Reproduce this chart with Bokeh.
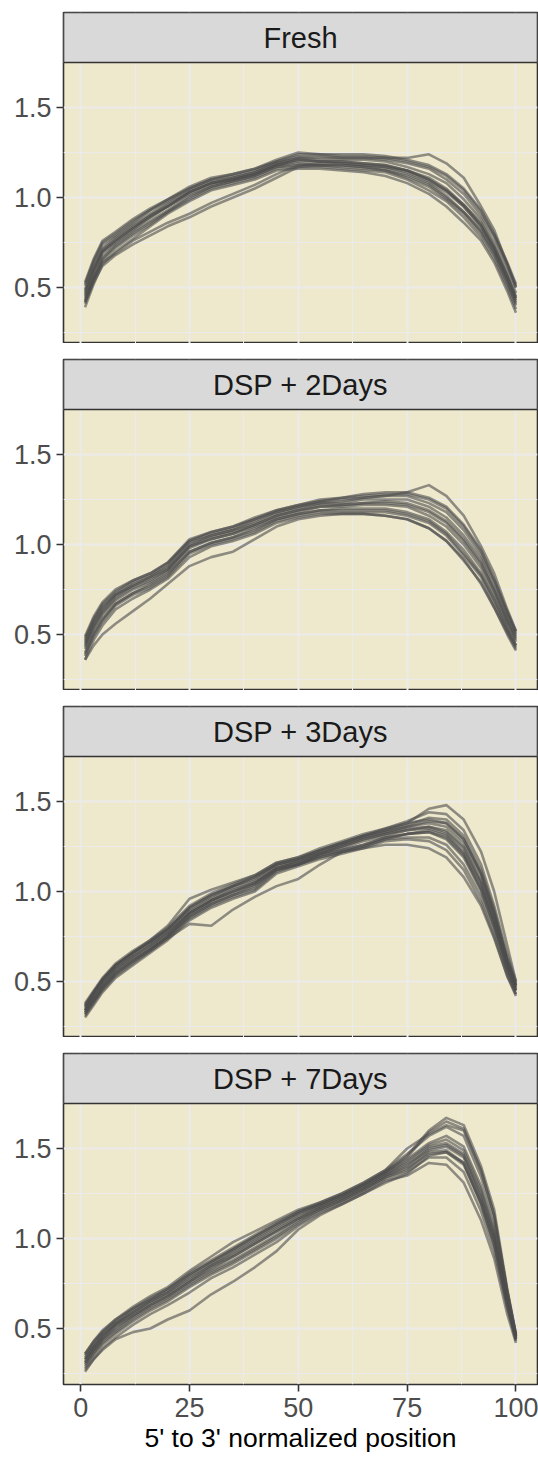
from bokeh.plotting import figure
from bokeh.layouts import column
from bokeh.models import FixedTicker, Range1d, Label, PrintfTickFormatter
from bokeh.embed import file_html
from bokeh.resources import INLINE

# ---------------- data ----------------
positions = [1, 3, 5, 8, 12, 16, 20, 25, 30, 35, 40, 45, 50, 55, 60, 65, 70, 75, 80, 84, 88, 92, 95, 98, 100]

panel_titles = ["Fresh", "DSP + 2Days", "DSP + 3Days", "DSP + 7Days"]

fresh = [
    [0.53, 0.66, 0.76, 0.81, 0.88, 0.94, 0.99, 1.06, 1.11, 1.13, 1.16, 1.21, 1.25, 1.24, 1.24, 1.24, 1.23, 1.21, 1.18, 1.13, 1.05, 0.93, 0.80, 0.64, 0.52],
    [0.52, 0.65, 0.75, 0.80, 0.87, 0.93, 0.99, 1.05, 1.10, 1.13, 1.16, 1.20, 1.24, 1.24, 1.23, 1.23, 1.22, 1.20, 1.17, 1.12, 1.04, 0.92, 0.79, 0.63, 0.51],
    [0.51, 0.64, 0.74, 0.79, 0.86, 0.93, 0.98, 1.05, 1.10, 1.12, 1.15, 1.20, 1.23, 1.23, 1.22, 1.22, 1.21, 1.19, 1.16, 1.10, 1.02, 0.90, 0.78, 0.62, 0.50],
    [0.49, 0.62, 0.72, 0.78, 0.85, 0.91, 0.97, 1.04, 1.09, 1.11, 1.14, 1.19, 1.22, 1.21, 1.21, 1.21, 1.20, 1.17, 1.13, 1.08, 0.99, 0.88, 0.75, 0.59, 0.47],
    [0.47, 0.60, 0.70, 0.76, 0.83, 0.90, 0.95, 1.03, 1.08, 1.10, 1.13, 1.18, 1.21, 1.20, 1.20, 1.19, 1.18, 1.15, 1.11, 1.05, 0.96, 0.86, 0.73, 0.57, 0.45],
    [0.46, 0.59, 0.70, 0.76, 0.83, 0.89, 0.95, 1.03, 1.08, 1.10, 1.13, 1.18, 1.21, 1.20, 1.20, 1.19, 1.18, 1.15, 1.10, 1.04, 0.96, 0.85, 0.72, 0.56, 0.44],
    [0.45, 0.58, 0.69, 0.75, 0.82, 0.89, 0.95, 1.02, 1.07, 1.10, 1.13, 1.18, 1.20, 1.20, 1.19, 1.18, 1.17, 1.14, 1.09, 1.03, 0.95, 0.84, 0.71, 0.55, 0.43],
    [0.43, 0.56, 0.67, 0.74, 0.81, 0.87, 0.93, 1.01, 1.06, 1.09, 1.12, 1.17, 1.19, 1.18, 1.18, 1.17, 1.15, 1.12, 1.07, 1.00, 0.92, 0.81, 0.69, 0.53, 0.41],
    [0.42, 0.55, 0.66, 0.73, 0.80, 0.86, 0.92, 1.00, 1.06, 1.09, 1.12, 1.17, 1.18, 1.18, 1.17, 1.16, 1.15, 1.11, 1.06, 0.99, 0.91, 0.80, 0.68, 0.52, 0.40],
    [0.41, 0.54, 0.65, 0.72, 0.79, 0.85, 0.92, 0.99, 1.05, 1.08, 1.11, 1.16, 1.17, 1.17, 1.16, 1.15, 1.14, 1.10, 1.04, 0.98, 0.89, 0.78, 0.66, 0.50, 0.38],
    [0.39, 0.52, 0.63, 0.70, 0.77, 0.84, 0.91, 0.98, 1.04, 1.07, 1.10, 1.15, 1.16, 1.16, 1.15, 1.14, 1.12, 1.08, 1.02, 0.95, 0.86, 0.76, 0.64, 0.48, 0.36],
    [0.42, 0.53, 0.62, 0.68, 0.74, 0.79, 0.84, 0.89, 0.95, 1.00, 1.05, 1.11, 1.17, 1.18, 1.18, 1.17, 1.16, 1.13, 1.08, 1.01, 0.92, 0.82, 0.70, 0.54, 0.42],
    [0.44, 0.55, 0.64, 0.69, 0.76, 0.81, 0.86, 0.91, 0.97, 1.02, 1.07, 1.13, 1.18, 1.19, 1.19, 1.18, 1.17, 1.15, 1.10, 1.04, 0.95, 0.84, 0.72, 0.56, 0.44],
    [0.48, 0.61, 0.71, 0.77, 0.84, 0.90, 0.96, 1.03, 1.08, 1.11, 1.14, 1.19, 1.22, 1.22, 1.22, 1.22, 1.22, 1.22, 1.24, 1.19, 1.11, 0.95, 0.82, 0.63, 0.50],
]

dsp_2days = [
    [0.49, 0.60, 0.68, 0.75, 0.80, 0.84, 0.90, 1.03, 1.07, 1.10, 1.15, 1.19, 1.22, 1.25, 1.26, 1.28, 1.29, 1.29, 1.26, 1.21, 1.11, 0.97, 0.81, 0.63, 0.52],
    [0.48, 0.59, 0.67, 0.74, 0.80, 0.84, 0.90, 1.02, 1.07, 1.10, 1.14, 1.19, 1.22, 1.24, 1.26, 1.27, 1.28, 1.28, 1.25, 1.20, 1.10, 0.96, 0.80, 0.62, 0.51],
    [0.47, 0.58, 0.66, 0.73, 0.79, 0.83, 0.89, 1.02, 1.06, 1.09, 1.14, 1.18, 1.21, 1.24, 1.25, 1.26, 1.27, 1.27, 1.23, 1.18, 1.08, 0.94, 0.79, 0.61, 0.50],
    [0.45, 0.56, 0.64, 0.72, 0.77, 0.82, 0.87, 1.00, 1.05, 1.08, 1.12, 1.17, 1.20, 1.23, 1.23, 1.25, 1.25, 1.25, 1.21, 1.15, 1.05, 0.92, 0.76, 0.59, 0.49],
    [0.44, 0.55, 0.63, 0.71, 0.77, 0.81, 0.86, 0.99, 1.04, 1.07, 1.11, 1.16, 1.19, 1.22, 1.22, 1.23, 1.24, 1.23, 1.19, 1.13, 1.03, 0.90, 0.75, 0.58, 0.48],
    [0.43, 0.54, 0.62, 0.70, 0.76, 0.80, 0.86, 0.99, 1.03, 1.06, 1.11, 1.16, 1.19, 1.21, 1.22, 1.23, 1.23, 1.22, 1.18, 1.12, 1.02, 0.89, 0.74, 0.57, 0.47],
    [0.42, 0.53, 0.61, 0.69, 0.75, 0.79, 0.85, 0.98, 1.03, 1.06, 1.10, 1.15, 1.18, 1.21, 1.21, 1.22, 1.22, 1.21, 1.16, 1.10, 1.00, 0.87, 0.72, 0.56, 0.46],
    [0.40, 0.51, 0.59, 0.67, 0.73, 0.78, 0.84, 0.96, 1.01, 1.04, 1.09, 1.14, 1.17, 1.19, 1.20, 1.20, 1.20, 1.18, 1.14, 1.07, 0.97, 0.84, 0.70, 0.54, 0.44],
    [0.39, 0.50, 0.58, 0.67, 0.73, 0.77, 0.83, 0.96, 1.01, 1.04, 1.08, 1.14, 1.17, 1.19, 1.19, 1.19, 1.19, 1.17, 1.13, 1.06, 0.95, 0.83, 0.69, 0.53, 0.44],
    [0.38, 0.49, 0.57, 0.66, 0.72, 0.76, 0.82, 0.95, 1.00, 1.03, 1.07, 1.13, 1.16, 1.18, 1.18, 1.18, 1.18, 1.16, 1.12, 1.05, 0.94, 0.82, 0.67, 0.52, 0.43],
    [0.36, 0.47, 0.55, 0.64, 0.70, 0.75, 0.81, 0.93, 0.99, 1.02, 1.06, 1.12, 1.15, 1.17, 1.17, 1.17, 1.16, 1.14, 1.09, 1.02, 0.91, 0.79, 0.65, 0.50, 0.41],
    [0.36, 0.44, 0.50, 0.56, 0.63, 0.70, 0.78, 0.88, 0.93, 0.96, 1.03, 1.10, 1.14, 1.16, 1.17, 1.17, 1.16, 1.14, 1.09, 1.02, 0.92, 0.78, 0.65, 0.51, 0.42],
    [0.46, 0.57, 0.65, 0.72, 0.78, 0.82, 0.88, 1.01, 1.05, 1.08, 1.13, 1.18, 1.21, 1.23, 1.24, 1.26, 1.27, 1.29, 1.33, 1.27, 1.16, 0.99, 0.84, 0.64, 0.52],
]

dsp_3days = [
    [0.38, 0.45, 0.52, 0.60, 0.67, 0.73, 0.80, 0.92, 0.99, 1.04, 1.09, 1.16, 1.19, 1.24, 1.28, 1.32, 1.35, 1.39, 1.44, 1.43, 1.34, 1.15, 0.92, 0.65, 0.50],
    [0.37, 0.44, 0.51, 0.59, 0.66, 0.72, 0.79, 0.91, 0.98, 1.03, 1.08, 1.15, 1.18, 1.23, 1.27, 1.31, 1.34, 1.37, 1.41, 1.40, 1.31, 1.12, 0.90, 0.63, 0.49],
    [0.36, 0.44, 0.51, 0.59, 0.66, 0.72, 0.79, 0.90, 0.97, 1.03, 1.07, 1.15, 1.18, 1.22, 1.26, 1.30, 1.33, 1.36, 1.39, 1.38, 1.29, 1.10, 0.88, 0.62, 0.48],
    [0.35, 0.43, 0.50, 0.58, 0.65, 0.71, 0.78, 0.89, 0.96, 1.02, 1.06, 1.14, 1.17, 1.22, 1.26, 1.30, 1.33, 1.36, 1.38, 1.36, 1.27, 1.09, 0.87, 0.61, 0.48],
    [0.34, 0.42, 0.49, 0.57, 0.64, 0.70, 0.77, 0.88, 0.95, 1.01, 1.05, 1.13, 1.16, 1.21, 1.25, 1.29, 1.32, 1.35, 1.36, 1.34, 1.25, 1.06, 0.85, 0.60, 0.47],
    [0.34, 0.42, 0.49, 0.57, 0.64, 0.70, 0.77, 0.88, 0.95, 1.00, 1.05, 1.13, 1.17, 1.21, 1.25, 1.29, 1.32, 1.34, 1.36, 1.33, 1.24, 1.05, 0.84, 0.60, 0.47],
    [0.34, 0.41, 0.48, 0.56, 0.63, 0.69, 0.76, 0.88, 0.95, 1.00, 1.04, 1.13, 1.16, 1.21, 1.24, 1.28, 1.31, 1.34, 1.35, 1.32, 1.22, 1.04, 0.83, 0.59, 0.46],
    [0.33, 0.40, 0.47, 0.55, 0.62, 0.68, 0.75, 0.86, 0.93, 0.98, 1.03, 1.12, 1.15, 1.20, 1.23, 1.26, 1.30, 1.32, 1.33, 1.29, 1.19, 1.00, 0.80, 0.57, 0.45],
    [0.32, 0.39, 0.46, 0.54, 0.61, 0.68, 0.75, 0.86, 0.93, 0.98, 1.02, 1.12, 1.15, 1.20, 1.23, 1.26, 1.30, 1.32, 1.33, 1.30, 1.20, 1.01, 0.81, 0.57, 0.45],
    [0.31, 0.38, 0.45, 0.53, 0.60, 0.67, 0.74, 0.85, 0.92, 0.97, 1.01, 1.11, 1.15, 1.19, 1.22, 1.25, 1.29, 1.30, 1.30, 1.26, 1.15, 0.97, 0.78, 0.55, 0.43],
    [0.30, 0.37, 0.44, 0.52, 0.59, 0.66, 0.73, 0.84, 0.91, 0.96, 1.00, 1.10, 1.14, 1.18, 1.21, 1.24, 1.28, 1.29, 1.28, 1.23, 1.12, 0.94, 0.75, 0.53, 0.42],
    [0.32, 0.39, 0.46, 0.54, 0.61, 0.67, 0.74, 0.82, 0.81, 0.90, 0.97, 1.03, 1.07, 1.15, 1.22, 1.25, 1.29, 1.32, 1.34, 1.31, 1.21, 1.02, 0.82, 0.58, 0.45],
    [0.36, 0.44, 0.51, 0.59, 0.66, 0.73, 0.81, 0.96, 1.01, 1.05, 1.09, 1.16, 1.19, 1.23, 1.27, 1.31, 1.34, 1.38, 1.40, 1.38, 1.29, 1.10, 0.88, 0.62, 0.48],
    [0.37, 0.44, 0.51, 0.59, 0.66, 0.72, 0.79, 0.91, 0.98, 1.03, 1.08, 1.15, 1.18, 1.23, 1.27, 1.31, 1.35, 1.38, 1.46, 1.48, 1.40, 1.22, 1.00, 0.70, 0.50],
    [0.33, 0.40, 0.47, 0.55, 0.62, 0.68, 0.75, 0.87, 0.94, 0.99, 1.04, 1.12, 1.15, 1.19, 1.22, 1.24, 1.26, 1.26, 1.24, 1.19, 1.08, 0.92, 0.74, 0.53, 0.43],
]

dsp_7days = [
    [0.36, 0.43, 0.48, 0.55, 0.61, 0.67, 0.72, 0.80, 0.87, 0.94, 1.01, 1.08, 1.14, 1.19, 1.24, 1.30, 1.37, 1.46, 1.60, 1.67, 1.63, 1.40, 1.16, 0.72, 0.47],
    [0.35, 0.42, 0.48, 0.54, 0.61, 0.66, 0.72, 0.81, 0.88, 0.95, 1.02, 1.09, 1.15, 1.20, 1.25, 1.31, 1.38, 1.47, 1.57, 1.62, 1.57, 1.34, 1.10, 0.70, 0.46],
    [0.33, 0.40, 0.46, 0.53, 0.59, 0.65, 0.70, 0.79, 0.86, 0.93, 1.00, 1.07, 1.14, 1.19, 1.24, 1.30, 1.37, 1.44, 1.53, 1.57, 1.51, 1.29, 1.06, 0.68, 0.46],
    [0.33, 0.40, 0.46, 0.52, 0.59, 0.65, 0.70, 0.78, 0.85, 0.92, 0.99, 1.06, 1.13, 1.18, 1.23, 1.29, 1.36, 1.43, 1.52, 1.55, 1.49, 1.27, 1.04, 0.67, 0.46],
    [0.32, 0.39, 0.45, 0.52, 0.58, 0.64, 0.69, 0.77, 0.85, 0.91, 0.98, 1.05, 1.12, 1.18, 1.23, 1.29, 1.36, 1.42, 1.51, 1.53, 1.47, 1.25, 1.02, 0.66, 0.45],
    [0.31, 0.38, 0.44, 0.51, 0.57, 0.63, 0.68, 0.76, 0.83, 0.90, 0.97, 1.04, 1.11, 1.17, 1.22, 1.28, 1.35, 1.40, 1.50, 1.52, 1.46, 1.23, 1.01, 0.65, 0.45],
    [0.31, 0.38, 0.44, 0.50, 0.57, 0.63, 0.68, 0.76, 0.84, 0.90, 0.97, 1.04, 1.11, 1.17, 1.22, 1.28, 1.35, 1.41, 1.49, 1.51, 1.45, 1.22, 1.00, 0.65, 0.45],
    [0.30, 0.37, 0.43, 0.49, 0.56, 0.62, 0.67, 0.75, 0.82, 0.88, 0.95, 1.02, 1.10, 1.16, 1.21, 1.27, 1.34, 1.39, 1.47, 1.48, 1.41, 1.19, 0.97, 0.63, 0.44],
    [0.29, 0.36, 0.42, 0.48, 0.55, 0.61, 0.66, 0.74, 0.81, 0.87, 0.94, 1.01, 1.09, 1.16, 1.21, 1.27, 1.34, 1.38, 1.48, 1.49, 1.42, 1.19, 0.96, 0.63, 0.44],
    [0.28, 0.35, 0.41, 0.47, 0.54, 0.60, 0.65, 0.73, 0.80, 0.86, 0.93, 1.00, 1.08, 1.15, 1.20, 1.26, 1.33, 1.37, 1.45, 1.45, 1.37, 1.15, 0.93, 0.61, 0.43],
    [0.26, 0.33, 0.39, 0.45, 0.52, 0.58, 0.63, 0.70, 0.78, 0.84, 0.91, 0.98, 1.07, 1.14, 1.19, 1.25, 1.32, 1.35, 1.42, 1.41, 1.31, 1.10, 0.89, 0.58, 0.42],
    [0.27, 0.33, 0.38, 0.44, 0.48, 0.50, 0.55, 0.60, 0.69, 0.76, 0.84, 0.93, 1.05, 1.13, 1.19, 1.25, 1.31, 1.36, 1.46, 1.48, 1.42, 1.20, 0.98, 0.64, 0.44],
    [0.36, 0.43, 0.49, 0.55, 0.62, 0.68, 0.73, 0.82, 0.90, 0.98, 1.04, 1.10, 1.16, 1.20, 1.25, 1.31, 1.38, 1.50, 1.58, 1.63, 1.60, 1.38, 1.13, 0.71, 0.47],
    [0.34, 0.41, 0.47, 0.53, 0.60, 0.66, 0.71, 0.80, 0.87, 0.94, 1.01, 1.08, 1.15, 1.19, 1.24, 1.30, 1.37, 1.45, 1.59, 1.65, 1.61, 1.37, 1.13, 0.71, 0.46],
]

panel_data = [fresh, dsp_2days, dsp_3days, dsp_7days]

x_ticks = [0, 25, 50, 75, 100]
x_minor = [12.5, 37.5, 62.5, 87.5]
y_ticks = [0.5, 1.0, 1.5]
y_minor = [0.25, 0.75, 1.25, 1.75]
x_label = "5' to 3' normalized position"

# ---------------- styling ----------------
FONT = "Liberation Sans"
PANEL_BG = "#EEE8CD"
STRIP_BG = "#D9D9D9"
BORDER = "#333333"
GRID = "#EBEBEB"
LINE = "#4D4D4D"

X_LO, X_HI = -3.95, 104.95
Y_LO, Y_PANEL_HI = 0.189, 1.75
PX_PER_UNIT = 180.0
FRAME_H = 331
Y_HI = Y_LO + FRAME_H / PX_PER_UNIT
LEFT = 63

figs = []
for i, (title, curves) in enumerate(zip(panel_titles, panel_data)):
    last = i == len(panel_titles) - 1
    top = 12 if i == 0 else 16
    bottom = 75 if last else 0
    p = figure(
        width=538, height=top + FRAME_H + bottom,
        x_range=Range1d(X_LO, X_HI), y_range=Range1d(Y_LO, Y_HI),
        output_backend="svg", toolbar_location=None,
        x_axis_location="below" if last else None,
        min_border_left=LEFT, min_border_right=1,
        min_border_top=top, min_border_bottom=bottom,
        background_fill_color=PANEL_BG, border_fill_color="white",
        outline_line_color=BORDER, outline_line_width=1.6,
    )
    # grids
    p.xgrid.ticker = FixedTicker(ticks=x_ticks, minor_ticks=x_minor)
    p.ygrid.ticker = FixedTicker(ticks=y_ticks, minor_ticks=y_minor)
    for g in (p.xgrid, p.ygrid):
        g.grid_line_color = GRID
        g.grid_line_width = 2
        g.minor_grid_line_color = GRID
        g.minor_grid_line_width = 1

    # y axis
    ya = p.yaxis[0]
    ya.ticker = FixedTicker(ticks=y_ticks)
    ya.formatter = PrintfTickFormatter(format="%.1f")
    ya.axis_line_color = None
    ya.major_tick_line_color = BORDER
    ya.major_tick_line_width = 1.6
    ya.major_tick_out = 7
    ya.major_tick_in = 0
    ya.minor_tick_line_color = None
    ya.major_label_standoff = 5
    ya.major_label_text_font = FONT
    ya.major_label_text_font_size = "27px"
    ya.major_label_text_color = "#4D4D4D"

    if last:
        xa = p.xaxis[0]
        xa.ticker = FixedTicker(ticks=x_ticks)
        xa.axis_line_color = None
        xa.major_tick_line_color = BORDER
        xa.major_tick_line_width = 1.6
        xa.major_tick_out = 7
        xa.major_tick_in = 0
        xa.minor_tick_line_color = None
        xa.major_label_standoff = 6
        xa.major_label_text_font = FONT
        xa.major_label_text_font_size = "27px"
        xa.major_label_text_color = "#4D4D4D"
        xa.axis_label = x_label
        xa.axis_label_text_font = FONT
        xa.axis_label_text_font_size = "26.5px"
        xa.axis_label_text_font_style = "normal"
        xa.axis_label_text_color = "black"
        xa.axis_label_standoff = 3

    # coverage curves
    p.multi_line(xs=[positions] * len(curves), ys=curves,
                 line_color=LINE, line_alpha=0.6, line_width=2.6,
                 line_join="round")

    # facet strip
    p.quad(left=[X_LO], right=[X_HI], bottom=[Y_PANEL_HI], top=[Y_HI],
           fill_color=STRIP_BG, line_color=BORDER, line_width=1.6)
    p.add_layout(Label(x=(X_LO + X_HI) / 2, y=(Y_PANEL_HI + Y_HI) / 2,
                       text=title, text_align="center", text_baseline="middle",
                       text_font=FONT, text_font_size="29px", text_color="#1A1A1A"))
    figs.append(p)

layout = column(*figs, spacing=0)
open("out.html", "w").write(file_html(layout, INLINE))
